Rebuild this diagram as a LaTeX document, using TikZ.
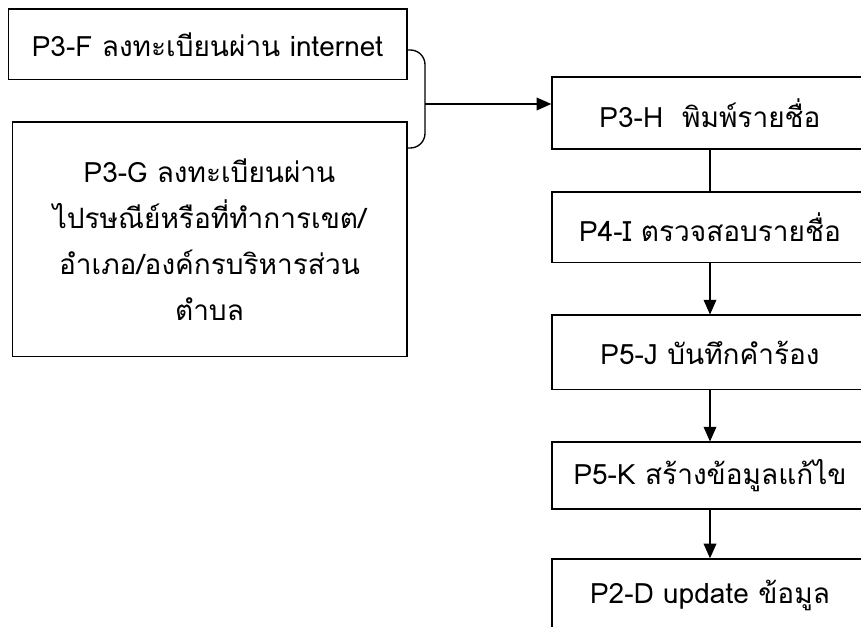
\documentclass[tikz,border=0pt]{standalone}
\usepackage{fontspec}
\newfontfamily\thaifont[Script=Thai]{Loma}
\usetikzlibrary{arrows.meta}
\begin{document}
\begin{tikzpicture}[x=0.75pt,y=-0.75pt,line width=1pt,>={Triangle[length=11pt,width=9.5pt]}]
        \tikzstyle{process}=[rectangle,draw=black,fill=white,align=center,inner sep=2pt,
          font=\thaifont\fontsize{21}{34.5}\selectfont]
        \tikzstyle{edge}=[draw,->]
        \useasboundingbox (0,0) rectangle (861,627);
        % left column
        \node [process,minimum width=299pt,minimum height=53pt] (pf) at (207.5,44.5) {P3-F ลงทะเบียนผ่าน internet};
        \node [process,minimum width=296pt,minimum height=176pt] (pg) at (209.5,239.5) {P3-G ลงทะเบียนผ่าน\\ไปรษณีย์หรือที่ทำการเขต/\\อำเภอ/องค์กรบริหารส่วน\\ตำบล};
        % right column
        \node [process,minimum width=237pt,minimum height=54pt] (ph) at (710,113) {P3-H~ พิมพ์รายชื่อ};
        \node [process,minimum width=237pt,minimum height=53pt] (pi) at (710,227.5) {P4-I ตรวจสอบรายชื่อ};
        \node [process,minimum width=237pt,minimum height=56pt] (pj) at (710,352.5) {P5-J บันทึกคำร้อง};
        \node [process,minimum width=237pt,minimum height=50pt] (pk) at (710,475.5) {P5-K สร้างข้อมูลแก้ไข};
        \node [process,minimum width=237pt,minimum height=54pt] (pd) at (710,595) {P2-D update ข้อมูล};
        % bracket joining the two inputs
        \coordinate (brtop) at (pf.east |- 0,50);
        \coordinate (brbot) at (pg.east |- 0,148);
        \coordinate (brmid) at (425,104);
        \draw [rounded corners=11pt] (brtop) -- (brtop -| brmid) -- (brbot -| brmid) -- (brbot);
        \path[edge] (brmid) -- (brmid -| ph.west);
        \draw (ph) -- (pi);
        \path[edge] (pi) -- (pj);
        \path[edge] (pj) -- (pk);
        \path[edge] (pk) -- (pd);
      \end{tikzpicture}
\end{document}
